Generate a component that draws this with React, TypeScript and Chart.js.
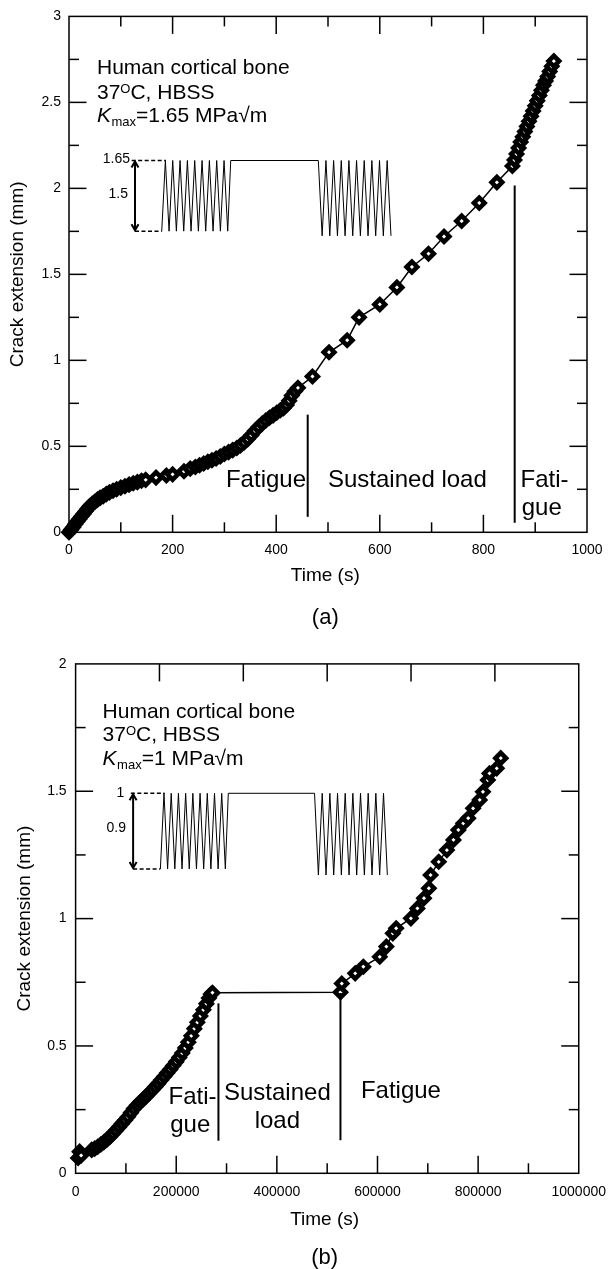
import React, { useEffect, useRef } from 'react';
import { Chart, registerables } from 'chart.js';

Chart.register(...registerables);

const FONT = '"Liberation Sans", Arial, Helvetica, sans-serif';

// ---------- Panel (a): Kmax = 1.65 MPa√m, time in seconds ----------
const fatigueTimeA = [0, 4, 8, 12, 16, 20, 24, 28, 32, 36, 40, 45, 50, 55, 60, 66, 72, 78, 85, 92, 100, 108, 116, 124, 132, 140, 148, 168, 188, 200, 222, 234, 244, 252, 260, 268, 276, 284, 292, 300, 308, 316, 324, 331, 338, 345, 352, 359, 366, 373, 380, 387, 394, 401, 408, 414, 420, 425, 430, 436, 442];
const fatigueCrackA = [0, 0.015, 0.03, 0.047, 0.063, 0.078, 0.093, 0.107, 0.122, 0.138, 0.152, 0.165, 0.178, 0.19, 0.2, 0.21, 0.222, 0.232, 0.242, 0.25, 0.26, 0.268, 0.277, 0.285, 0.292, 0.3, 0.305, 0.318, 0.33, 0.337, 0.355, 0.37, 0.38, 0.39, 0.4, 0.41, 0.419, 0.429, 0.441, 0.455, 0.466, 0.478, 0.49, 0.505, 0.522, 0.542, 0.565, 0.59, 0.612, 0.632, 0.65, 0.666, 0.68, 0.695, 0.71, 0.722, 0.74, 0.765, 0.795, 0.82, 0.84];
const sustainedTimeA = [470, 502, 537, 560, 600, 633, 662, 694, 724, 758, 792, 826];
const sustainedCrackA = [0.906, 1.047, 1.117, 1.25, 1.325, 1.424, 1.543, 1.62, 1.72, 1.81, 1.915, 2.035];
const fatigue2TimeA = [856, 860, 864, 868, 872, 876, 880, 884, 888, 892, 896, 900, 904, 908, 912, 916, 920, 924, 928, 932, 936];
const fatigue2CrackA = [2.13, 2.165, 2.2, 2.235, 2.27, 2.3, 2.33, 2.36, 2.39, 2.42, 2.45, 2.48, 2.51, 2.54, 2.57, 2.6, 2.625, 2.65, 2.68, 2.71, 2.74];

const xLabelsA = [0, 200, 400, 600, 800, 1000];
const xMinorA = [100, 300, 500, 700, 900];
const xMajorA = [200, 400, 600, 800];
const yLabelsA = [0, 0.5, 1, 1.5, 2, 2.5, 3];
const yMinorA = [0.25, 0.75, 1.25, 1.75, 2.25, 2.75];
const yMajorA = [0.5, 1, 1.5, 2, 2.5];

// ---------- Panel (b): Kmax = 1 MPa√m ----------
const fatigueTimeB = [5000, 8000, 11000, 32000, 38000, 44000, 50000, 56000, 62000, 68000, 74000, 80000, 86000, 92000, 98000, 104000, 110000, 116000, 122000, 128000, 134000, 140000, 146000, 152000, 158000, 164000, 170000, 176000, 182000, 188000, 194000, 200000, 206000, 212000, 218000, 224000, 230000, 236000, 242000, 248000, 254000, 260000, 265000, 269000, 272000];
const fatigueCrackB = [0.06, 0.085, 0.07, 0.092, 0.097, 0.104, 0.113, 0.122, 0.132, 0.143, 0.155, 0.168, 0.181, 0.195, 0.208, 0.222, 0.238, 0.254, 0.267, 0.279, 0.29, 0.302, 0.314, 0.326, 0.339, 0.352, 0.366, 0.38, 0.394, 0.408, 0.423, 0.438, 0.455, 0.472, 0.492, 0.515, 0.54, 0.568, 0.593, 0.618, 0.642, 0.666, 0.688, 0.703, 0.709];
const fatigue2TimeB = [526500, 529000, 555700, 571900, 604500, 617600, 630500, 637100, 666400, 679300, 692400, 702100, 705500, 721700, 737900, 751000, 760700, 770500, 780300, 790000, 803100, 809600, 819300, 822600, 837000, 845000];
const fatigue2CrackB = [0.711, 0.745, 0.785, 0.811, 0.85, 0.89, 0.942, 0.962, 1.001, 1.04, 1.08, 1.119, 1.171, 1.223, 1.269, 1.309, 1.348, 1.374, 1.394, 1.433, 1.466, 1.498, 1.544, 1.57, 1.59, 1.63];

const xLabelsB = [0, 200000, 400000, 600000, 800000, 1000000];
const xMinorB = [100000, 300000, 500000, 700000, 900000];
const xMajorB = [200000, 400000, 600000, 800000];
const xTopB = [166667, 333333, 500000, 666667, 833333];
const yLabelsB = [0, 0.5, 1, 1.5, 2];
const yMinorB = [0.25, 0.75, 1.25, 1.75];
const yMajorB = [0.5, 1, 1.5];

interface Run { text: string; size: number; italic?: boolean; rise?: number; gap?: number }
interface Label { text: string; x: number; y: number; align?: CanvasTextAlign }
interface Inset {
  top: number; bottom1: number; bottom2: number;
  wave1: [number, number]; flat: [number, number]; wave2End: number;
  peaks1: number; valleys2: number;
  dashTop: [number, number]; dashBottom: [number, number]; arrowX: number;
  labels: Label[];
}
interface Panel {
  canvasTop: number; height: number;
  padTop: number; padRight: number; axisLeft: number; axisBottom: number;
  xMax: number; yMax: number;
  xLabels: number[]; yLabels: number[]; xTickPad: number; yTickPad: number;
  xMinor: number[]; xMajor: number[]; xTop: [number, number][];
  yMinor: number[]; yMajor: number[];
  time: number[]; crack: number[];
  headerX: number; headerY: number[]; header: Run[][];
  inset: Inset;
  regions: Label[];
  dividers: [number, number, number][];
  xTitlePos: [number, number]; yTitleX: number;
  caption: string; captionPos: [number, number];
}

const MINOR = 10;
const MAJOR = 17.5;

const headerRuns = (k: string): Run[][] => [
  [{ text: 'Human cortical bone', size: 21 }],
  [{ text: '37', size: 21 }, { text: 'O', size: 13, rise: 5.7 }, { text: 'C, HBSS', size: 21 }],
  [{ text: 'K', size: 21, italic: true, gap: 0.5 }, { text: 'max', size: 13, rise: -4.5 }, { text: `=${k} MPa√m`, size: 21 }],
];

const panelA: Panel = {
  canvasTop: 0, height: 634,
  padTop: 14, padRight: 29, axisLeft: 69, axisBottom: 101.7,
  xMax: 1000, yMax: 3,
  xLabels: xLabelsA, yLabels: yLabelsA, xTickPad: 9, yTickPad: 8,
  xMinor: xMinorA, xMajor: xMajorA,
  xTop: [...xMinorA.map((v) => [v, MINOR] as [number, number]), ...xMajorA.map((v) => [v, MAJOR] as [number, number])],
  yMinor: yMinorA, yMajor: yMajorA,
  time: [...fatigueTimeA, ...sustainedTimeA, ...fatigue2TimeA],
  crack: [...fatigueCrackA, ...sustainedCrackA, ...fatigue2CrackA],
  headerX: 54, headerY: [2.711, 2.566, 2.431], header: headerRuns('1.65'),
  inset: {
    top: 2.162, bottom1: 1.751, bottom2: 1.724,
    wave1: [179, 306.4], flat: [312.2, 481.3], wave2End: 621.6,
    peaks1: 9, valleys2: 10,
    dashTop: [121, 187], dashBottom: [127.4, 179], arrowX: 127.4,
    labels: [
      { text: '1.65', x: 117.8, y: 2.168, align: 'right' },
      { text: '1.5', x: 113.9, y: 1.969, align: 'right' },
    ],
  },
  regions: [
    { text: 'Fatigue', x: 303, y: 0.302 },
    { text: 'Sustained load', x: 500, y: 0.302 },
    { text: 'Fati-', x: 871.8, y: 0.302 },
    { text: 'gue', x: 874, y: 0.142 },
  ],
  dividers: [[460.8, 0.09, 0.684], [860.4, 0.055, 2.017]],
  xTitlePos: [325.3, 576], yTitleX: 17.7,
  caption: '(a)', captionPos: [325.3, 618.3],
};

const panelB: Panel = {
  canvasTop: 634, height: 635,
  padTop: 29.9, padRight: 29.3, axisLeft: 75.6, axisBottom: 95.7,
  xMax: 1000000, yMax: 2,
  xLabels: xLabelsB, yLabels: yLabelsB, xTickPad: 10, yTickPad: 9,
  xMinor: xMinorB, xMajor: xMajorB,
  xTop: xTopB.map((v) => [v, MAJOR] as [number, number]),
  yMinor: yMinorB, yMajor: yMajorB,
  time: [...fatigueTimeB, ...fatigue2TimeB],
  crack: [...fatigueCrackB, ...fatigue2CrackB],
  headerX: 53600, headerY: [1.818, 1.728, 1.633], header: headerRuns('1'),
  inset: {
    top: 1.492, bottom1: 1.195, bottom2: 1.171,
    wave1: [168500, 297600], flat: [303500, 474900], wave2End: 619600,
    peaks1: 9, valleys2: 10,
    dashTop: [109800, 176900], dashBottom: [114300, 168500], arrowX: 114300,
    labels: [
      { text: '1', x: 96700, y: 1.492, align: 'right' },
      { text: '0.9', x: 100000, y: 1.355, align: 'right' },
    ],
  },
  regions: [
    { text: 'Fati-', x: 184700, y: 0.298 },
    { text: 'gue', x: 188000, y: 0.19 },
    { text: 'Sustained', x: 401000, y: 0.314, align: 'center' },
    { text: 'load', x: 401000, y: 0.203, align: 'center' },
    { text: 'Fatigue', x: 567000, y: 0.32 },
  ],
  dividers: [[283900, 0.128, 0.667], [526400, 0.13, 0.708]],
  xTitlePos: [324.6, 586], yTitleX: 24.4,
  caption: '(b)', captionPos: [324.6, 624.3],
};

function drawRuns(ctx: CanvasRenderingContext2D, x: number, baseline: number, runs: Run[]) {
  let cx = x;
  for (const r of runs) {
    ctx.font = `${r.italic ? 'italic ' : ''}${r.size}px ${FONT}`;
    ctx.fillText(r.text, cx, baseline - (r.rise || 0));
    cx += ctx.measureText(r.text).width + (r.gap || 0);
  }
}

// Frame, inward tick marks, inset load schematic and text annotations
function decorPlugin(p: Panel) {
  return {
    id: 'panelDecor',
    afterDatasetsDraw(chart: any) {
      const { ctx, chartArea: a, scales } = chart;
      const X = (v: number) => scales.x.getPixelForValue(v);
      const Y = (v: number) => scales.y.getPixelForValue(v);
      const seg = (x1: number, y1: number, x2: number, y2: number) => {
        ctx.beginPath(); ctx.moveTo(x1, y1); ctx.lineTo(x2, y2); ctx.stroke();
      };
      ctx.save();
      ctx.strokeStyle = '#000';
      ctx.fillStyle = '#000';
      ctx.lineCap = 'butt';

      // frame
      ctx.lineWidth = 1.5;
      ctx.strokeRect(a.left, a.top, a.right - a.left, a.bottom - a.top);

      // ticks
      for (const v of p.xMinor) { const q = X(v); seg(q, a.bottom, q, a.bottom - MINOR); }
      for (const v of p.xMajor) { const q = X(v); seg(q, a.bottom, q, a.bottom - MAJOR); }
      for (const [v, len] of p.xTop) { const q = X(v); seg(q, a.top, q, a.top + len); }
      for (const v of p.yMinor) {
        const q = Y(v); seg(a.left, q, a.left + MINOR, q); seg(a.right, q, a.right - MINOR, q);
      }
      for (const v of p.yMajor) {
        const q = Y(v); seg(a.left, q, a.left + MAJOR, q); seg(a.right, q, a.right - MAJOR, q);
      }

      // load schematic
      const ins = p.inset;
      ctx.lineWidth = 1;
      ctx.beginPath();
      const [s1, e1] = ins.wave1;
      const P = (e1 - s1) / ins.peaks1;
      ctx.moveTo(X(s1), Y(ins.bottom1));
      for (let k = 0; k < ins.peaks1; k++) {
        ctx.lineTo(X(s1 + (k + 0.5) * P), Y(ins.top));
        ctx.lineTo(X(s1 + (k + 1) * P), Y(ins.bottom1));
      }
      ctx.lineTo(X(ins.flat[0]), Y(ins.top));
      ctx.lineTo(X(ins.flat[1]), Y(ins.top));
      const halves = 2 * ins.valleys2 - 1;
      const h = (ins.wave2End - ins.flat[1]) / halves;
      for (let j = 0; j < halves; j++) {
        ctx.lineTo(X(ins.flat[1] + (j + 1) * h), Y(j % 2 === 0 ? ins.bottom2 : ins.top));
      }
      ctx.stroke();

      ctx.lineWidth = 1.5;
      ctx.setLineDash([4, 2.5]);
      seg(X(ins.dashTop[0]), Y(ins.top), X(ins.dashTop[1]), Y(ins.top));
      seg(X(ins.dashBottom[0]), Y(ins.bottom1), X(ins.dashBottom[1]), Y(ins.bottom1));
      ctx.setLineDash([]);

      ctx.lineWidth = 2;
      const ax = X(ins.arrowX), ay0 = Y(ins.top), ay1 = Y(ins.bottom1);
      seg(ax, ay0 + 1, ax, ay1 - 1);
      ctx.beginPath(); ctx.moveTo(ax - 3.5, ay0 + 7); ctx.lineTo(ax, ay0 + 1); ctx.lineTo(ax + 3.5, ay0 + 7); ctx.stroke();
      ctx.beginPath(); ctx.moveTo(ax - 3.5, ay1 - 7); ctx.lineTo(ax, ay1 - 1); ctx.lineTo(ax + 3.5, ay1 - 7); ctx.stroke();

      ctx.font = `14px ${FONT}`;
      ctx.textBaseline = 'middle';
      for (const l of ins.labels) {
        ctx.textAlign = l.align || 'left';
        ctx.fillText(l.text, X(l.x), Y(l.y));
      }

      // header block
      ctx.textAlign = 'left';
      ctx.textBaseline = 'alphabetic';
      p.header.forEach((runs, i) => drawRuns(ctx, X(p.headerX), Y(p.headerY[i]) + 7.5, runs));

      // loading-regime labels and dividers
      ctx.font = `24px ${FONT}`;
      ctx.textBaseline = 'middle';
      for (const l of p.regions) {
        ctx.textAlign = l.align || 'left';
        ctx.fillText(l.text, X(l.x), Y(l.y));
      }
      ctx.lineWidth = 2;
      for (const [x, y0, y1] of p.dividers) seg(X(x), Y(y0), X(x), Y(y1));

      // axis titles and caption
      ctx.textAlign = 'center';
      ctx.font = `19px ${FONT}`;
      ctx.fillText('Time (s)', p.xTitlePos[0], p.xTitlePos[1]);
      ctx.save();
      ctx.translate(p.yTitleX, (a.top + a.bottom) / 2);
      ctx.rotate(-Math.PI / 2);
      ctx.fillText('Crack extension (mm)', 0, 0);
      ctx.restore();
      ctx.font = `22px ${FONT}`;
      ctx.fillText(p.caption, p.captionPos[0], p.captionPos[1]);

      ctx.restore();
    },
  };
}

function makeConfig(p: Panel): any {
  const points = p.time.map((t, i) => ({ x: t, y: p.crack[i] }));
  const tickFont = { family: FONT, size: 14 };
  return {
    type: 'scatter',
    data: {
      datasets: [{
        data: points,
        showLine: true,
        borderColor: '#000',
        borderWidth: 1.5,
        pointStyle: 'rectRot',
        pointRadius: 5.3,
        pointHoverRadius: 5.3,
        pointBorderWidth: 4.6,
        pointBorderColor: '#000',
        pointBackgroundColor: '#fff',
        clip: false,
      }],
    },
    options: {
      responsive: false,
      animation: false,
      devicePixelRatio: 1,
      events: [],
      layout: { padding: { left: 0, top: p.padTop, right: p.padRight, bottom: 0 } },
      plugins: { legend: { display: false }, tooltip: { enabled: false } },
      scales: {
        x: {
          type: 'linear', min: 0, max: p.xMax,
          afterBuildTicks: (s: any) => { s.ticks = p.xLabels.map((v) => ({ value: v })); },
          afterFit: (s: any) => { s.height = p.axisBottom; },
          grid: { display: false, drawTicks: false },
          border: { display: false },
          ticks: {
            color: '#000', font: tickFont, padding: p.xTickPad, maxRotation: 0, autoSkip: false,
            callback: (v: number) => String(v),
          },
        },
        y: {
          type: 'linear', min: 0, max: p.yMax,
          afterBuildTicks: (s: any) => { s.ticks = p.yLabels.map((v) => ({ value: v })); },
          afterFit: (s: any) => { s.width = p.axisLeft; },
          grid: { display: false, drawTicks: false },
          border: { display: false },
          ticks: {
            color: '#000', font: tickFont, padding: p.yTickPad, autoSkip: false,
            callback: (v: number) => String(v),
          },
        },
      },
    },
    plugins: [decorPlugin(p)],
  };
}

function CrackPanel({ panel }: { panel: Panel }) {
  const ref = useRef<HTMLCanvasElement>(null);
  useEffect(() => {
    const chart = new Chart(ref.current as HTMLCanvasElement, makeConfig(panel));
    return () => chart.destroy();
  }, [panel]);
  return (
    <canvas
      ref={ref}
      width={616}
      height={panel.height}
      style={{ position: 'absolute', left: 0, top: panel.canvasTop, width: 616, height: panel.height }}
    />
  );
}

export default function App() {
  return (
    <div style={{ position: 'absolute', left: 0, top: 0, width: 616, height: 1269, background: '#fff', overflow: 'hidden' }}>
      <CrackPanel panel={panelA} />
      <CrackPanel panel={panelB} />
    </div>
  );
}
